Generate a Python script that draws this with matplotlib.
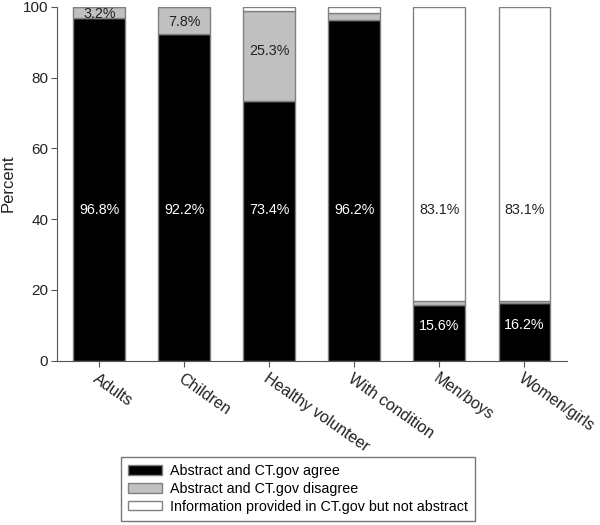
import numpy as np
import matplotlib
matplotlib.use("Agg")
import matplotlib.pyplot as plt

plt.rcParams['font.family'] = ['Liberation Sans', 'DejaVu Sans']

# Step 1: chart values (percent of trials)
groups = ['Adults', 'Children', 'Healthy volunteer', 'With condition', 'Men/boys', 'Women/girls']
agree = [96.8, 92.2, 73.4, 96.2, 15.6, 16.2]
disagree = [3.2, 7.8, 25.3, 2.0, 1.3, 0.7]
ctgov_only = [0.0, 0.0, 1.3, 1.8, 83.1, 83.1]
agree_lbl = ['96.8%', '92.2%', '73.4%', '96.2%', '15.6%', '16.2%']
disagree_lbl = ['3.2%', '7.8%', '25.3%', '', '', '']
ctgov_lbl = ['', '', '', '', '83.1%', '83.1%']

fig = plt.figure(figsize=(6, 5.25), dpi=100)
ax = fig.add_axes([0.0945, 0.313, 0.8505, 0.674])

x = np.arange(len(groups))
agree = np.array(agree)
disagree = np.array(disagree)
ctgov_only = np.array(ctgov_only)
edge = '#808080'
w = 0.61

ax.bar(x, agree, w, color='black', edgecolor=edge, linewidth=1, label='Abstract and CT.gov agree')
ax.bar(x, disagree, w, bottom=agree, color='#c0c0c0', edgecolor=edge, linewidth=1,
       label='Abstract and CT.gov disagree')
ax.bar(x, ctgov_only, w, bottom=agree + disagree, color='white', edgecolor=edge, linewidth=1,
       label='Information provided in CT.gov but not abstract')

# Step 2: labels inside bars
def lbl_y(bottom, height):
    if height > 50:
        return 42.5
    if height > 20:
        return bottom + height / 2 + 1.5
    if height > 10:
        return bottom + height / 2 + 2
    return bottom + height / 2 - 0.3

fs = 10.3
for i in range(len(groups)):
    if agree_lbl[i]:
        ax.text(x[i], lbl_y(0, agree[i]), agree_lbl[i], color='white', ha='center', va='center', fontsize=fs)
    if disagree_lbl[i]:
        ax.text(x[i], lbl_y(agree[i], disagree[i]), disagree_lbl[i], color='#222222', ha='center',
                va='center', fontsize=fs)
    if ctgov_lbl[i]:
        ax.text(x[i], lbl_y(agree[i] + disagree[i], ctgov_only[i]), ctgov_lbl[i], color='#222222',
                ha='center', va='center', fontsize=fs)

ax.set_xlim(-0.5, len(groups) - 0.5)
ax.set_ylim(0, 100)
ax.set_yticks([0, 20, 40, 60, 80, 100])
ax.set_xticks(x)
ax.set_xticklabels(groups, rotation=-35, ha='left', rotation_mode='anchor', fontsize=11.5,
                   color='#222222')
ax.tick_params(axis='y', labelsize=11, labelcolor='#222222', color='#555555', direction='out',
               length=4, pad=2)
ax.tick_params(axis='x', color='#555555', direction='out', length=4)
ax.set_ylabel('Percent', fontsize=12, color='#222222')
ax.yaxis.set_label_coords(-0.08, 0.5)
for s in ['top', 'right']:
    ax.spines[s].set_visible(False)
for s in ['left', 'bottom']:
    ax.spines[s].set_color('#555555')

leg = fig.legend(loc='upper left', bbox_to_anchor=(121 / 600, 1 - 457 / 525), fontsize=10.3,
                 frameon=True, fancybox=False, edgecolor='#555555', handlelength=2.4,
                 handleheight=0.65, labelspacing=0.26, borderpad=0.5, handletextpad=0.5,
                 borderaxespad=0)
leg.get_frame().set_linewidth(1)

plt.savefig('out.png', dpi=100)
plt.close()
